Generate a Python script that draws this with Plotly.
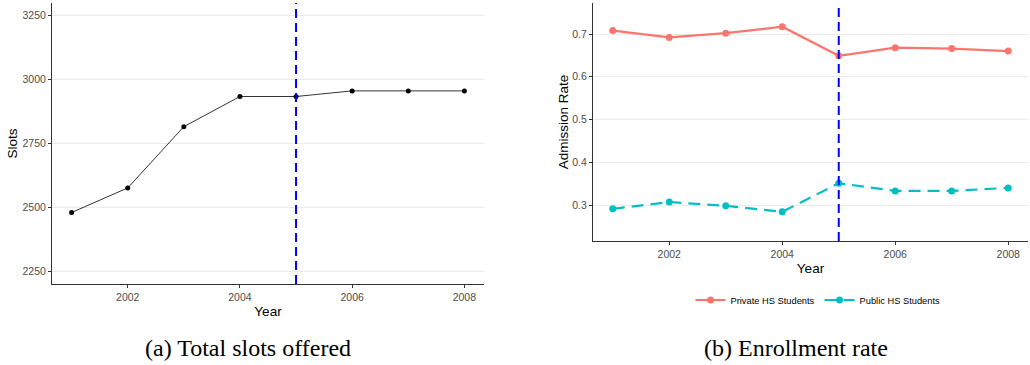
import plotly.graph_objects as go

# ---- data ----
years = [2001, 2002, 2003, 2004, 2005, 2006, 2007, 2008]
slots = [2480, 2576, 2816, 2934, 2934, 2956, 2956, 2956]
private_rate = [0.708, 0.692, 0.702, 0.717, 0.649, 0.668, 0.666, 0.660]
public_rate = [0.291, 0.307, 0.298, 0.284, 0.351, 0.333, 0.333, 0.340]
policy_year = 2005
slot_ticks = [2250, 2500, 2750, 3000, 3250]
rate_ticks = [0.3, 0.4, 0.5, 0.6, 0.7]
year_ticks = [2002, 2004, 2006, 2008]
caption_a = "(a) Total slots offered"
caption_b = "(b) Enrollment rate"

W, H = 1030, 365

def px_x(p):
    return p / W

def px_y(p):
    return 1 - p / H

fig = go.Figure()

fig.add_trace(go.Scatter(
    x=years, y=slots, mode="lines+markers",
    line=dict(color="black", width=0.8),
    marker=dict(color="black", size=5),
    showlegend=False, xaxis="x", yaxis="y"))

fig.add_trace(go.Scatter(
    x=years, y=private_rate, mode="lines+markers", name="Private HS Students",
    line=dict(color="#F8766D", width=2.2),
    marker=dict(color="#F8766D", size=7),
    xaxis="x2", yaxis="y2"))

fig.add_trace(go.Scatter(
    x=years, y=public_rate, mode="lines+markers", name="Public HS Students",
    line=dict(color="#00BFC4", width=2.2, dash="12px,7px"),
    marker=dict(color="#00BFC4", size=7),
    xaxis="x2", yaxis="y2"))

for xr, yr in [("x", "y domain"), ("x2", "y2 domain")]:
    fig.add_shape(type="line", x0=policy_year, x1=policy_year, y0=0, y1=1,
                  xref=xr, yref=yr,
                  line=dict(color="#0000FF", width=2, dash="9px,5px"))

tickfont = dict(family="Liberation Sans, Arial", size=10.5, color="#4D4D4D")
titlefont = dict(family="Liberation Sans, Arial", size=13.5, color="black")

common_x = dict(range=[2000.65, 2008.35], tickvals=year_ticks, showgrid=False,
                zeroline=False, showline=True, linecolor="#333333", linewidth=1,
                ticks="outside", ticklen=3, tickcolor="#333333", tickfont=tickfont,
                title=dict(text="Year", font=titlefont, standoff=4))
common_y = dict(showgrid=True, gridcolor="#EBEBEB", gridwidth=1, zeroline=False,
                showline=True, linecolor="#333333", linewidth=1,
                ticks="outside", ticklen=3, tickcolor="#333333", tickfont=tickfont)

fig.update_layout(
    width=W, height=H,
    margin=dict(l=0, r=0, t=0, b=0),
    paper_bgcolor="white", plot_bgcolor="white",
    xaxis=dict(domain=[px_x(52), px_x(484)], anchor="y", **common_x),
    yaxis=dict(domain=[px_y(284), px_y(3)], anchor="x", range=[2200, 3300],
               tickvals=slot_ticks,
               title=dict(text="Slots", font=titlefont, standoff=1), **common_y),
    xaxis2=dict(domain=[px_x(593), px_x(1028)], anchor="y2", **common_x),
    yaxis2=dict(domain=[px_y(241), px_y(3)], anchor="x2", range=[0.2158, 0.7725],
                tickvals=rate_ticks, tickformat=".1f",
                title=dict(text="Admission Rate", font=titlefont, standoff=0), **common_y),
    legend=dict(orientation="h", x=px_x(818), xanchor="center", y=px_y(300),
                yanchor="middle", font=dict(family="Liberation Sans, Arial", size=9.3, color="black"),
                bgcolor="rgba(0,0,0,0)"),
    font=dict(family="Liberation Sans, Arial"),
)

fig.add_annotation(text=caption_a, x=px_x(248), y=px_y(348), xref="paper", yref="paper",
                   showarrow=False, xanchor="center", yanchor="middle",
                   font=dict(family="Liberation Serif, DejaVu Serif", size=24, color="black"))
fig.add_annotation(text=caption_b, x=px_x(796), y=px_y(348), xref="paper", yref="paper",
                   showarrow=False, xanchor="center", yanchor="middle",
                   font=dict(family="Liberation Serif, DejaVu Serif", size=24, color="black"))

fig.write_html("out.html", config={"displayModeBar": False},
               post_script="document.body.style.margin='0';document.body.style.padding='0';")
